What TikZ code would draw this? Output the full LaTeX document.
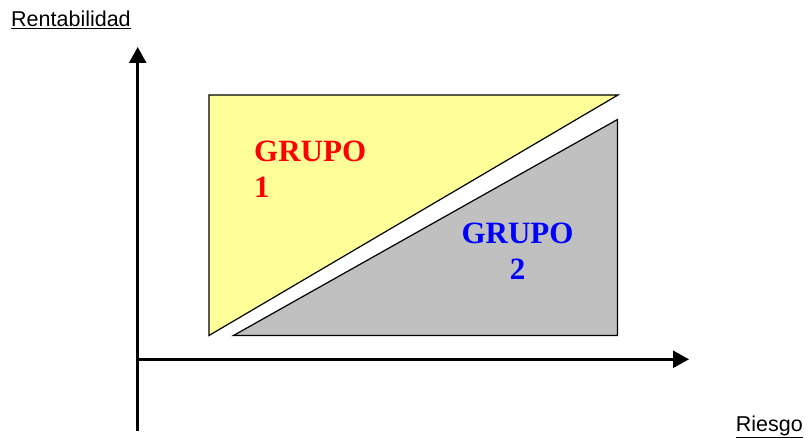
\documentclass[tikz,border=0pt]{standalone}
\usepackage{fontspec}
\usepackage{xcolor}
\setmainfont{Liberation Serif}
\newfontfamily\arialfont{Liberation Sans}
\usetikzlibrary{arrows.meta}
\definecolor{paleyellow}{HTML}{FFFF99}
\definecolor{midgray}{HTML}{C0C0C0}

\begin{document}
\begin{tikzpicture}[
  x=1pt, y=-1pt,
  axis/.style={-{Triangle[width=17pt,length=16pt]}, line width=2.6pt, draw=black},
  region/.style={draw=black, line width=1.2pt, line join=miter},
  axislabel/.style={font=\arialfont\fontsize{21.5}{25}\selectfont, inner sep=0pt},
  grouplabel/.style={font=\bfseries\fontsize{31}{36.3}\selectfont, inner sep=0pt}
]
\useasboundingbox (0,0) rectangle (807,438);

% axes
\coordinate (ybot) at (137.7,431);
\coordinate (ytop) at (137.7,47);
\coordinate (xorg) at (137.7,359.3);
\coordinate (xend) at (689,359.3);
\draw[axis] (ybot) -- (ytop);
\draw[axis] (xorg) -- (xend);

% regions
\draw[region, fill=paleyellow] (209,95) -- (618,95) -- (209,335.5) -- cycle;
\draw[region, fill=midgray] (617.5,119.5) -- (617.5,335.5) -- (233.5,335.5) -- cycle;

\node[grouplabel, text=red, align=left, anchor=base west] (g1) at (254,198) {GRUPO\\1};
\node[grouplabel, text=blue, align=center, anchor=base] (g2) at (517.5,280) {GRUPO\\2};

\node[axislabel, anchor=base west] (rent) at (11,26.7) {\underline{Rentabilidad}};
\node[axislabel, anchor=base east] (riesgo) at (803,431.7) {\underline{Riesgo}};
\end{tikzpicture}
\end{document}
